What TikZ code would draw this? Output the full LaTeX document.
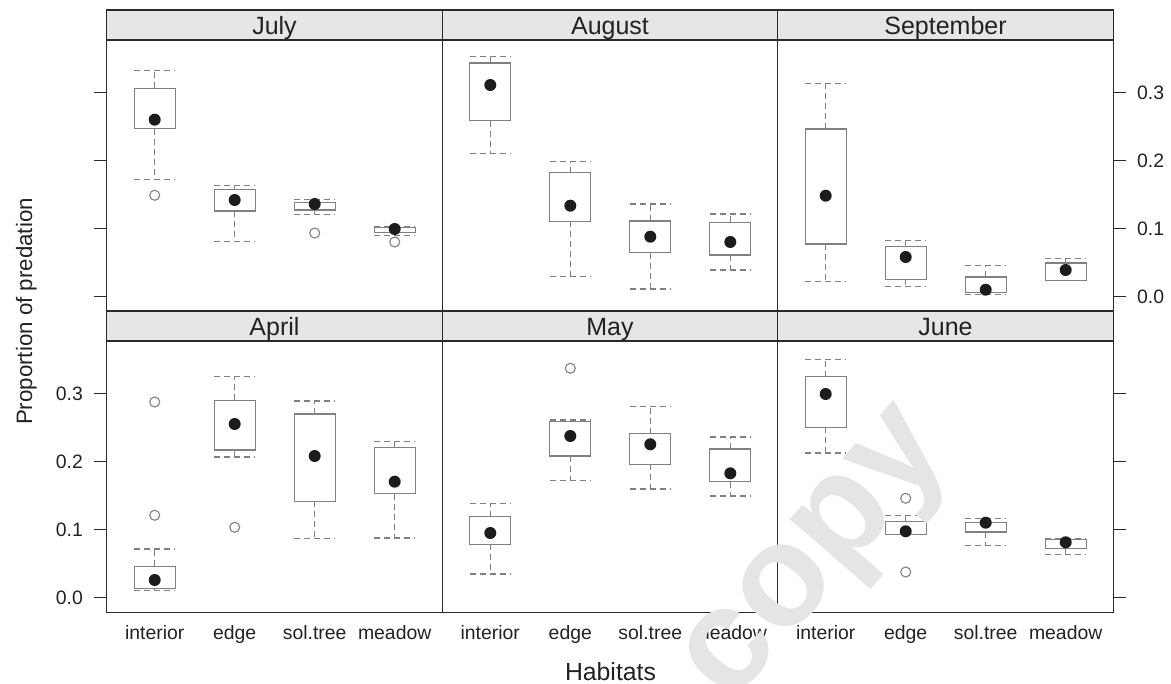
\documentclass[tikz,border=0pt]{standalone}
\usepackage{fontspec}
\setmainfont{Liberation Sans}
\definecolor{framec}{HTML}{2A2A2A}
\definecolor{stripc}{HTML}{E6E6E6}
\definecolor{boxc}{HTML}{808080}
\definecolor{dotc}{HTML}{1C1C1C}
\definecolor{labc}{HTML}{222222}
\definecolor{wmc}{HTML}{E5E5E5}
\newcommand\bxp[6]{%
  \draw[whisk] (#1-20.5,#2) -- (#1+20.5,#2);
  \draw[whisk] (#1,#3) -- (#1,#2);
  \draw[whisk] (#1,#5) -- (#1,#6);
  \draw[whisk] (#1-20.5,#6) -- (#1+20.5,#6);
  \draw[boxl] (#1-20.5,#3) rectangle (#1+20.5,#5);
  \fill[dotc] (#1,#4) circle[radius=6pt];
}
\newcommand\outp[2]{\draw[outl] (#1,#2) circle[radius=5pt];}
\begin{document}
\begin{tikzpicture}[x=1pt,y=-1pt,
  frame/.style={draw=framec,line width=1.3pt},
  strip/.style={fill=stripc,draw=framec,line width=1.3pt},
  boxl/.style={draw=boxc,line width=1.3pt},
  whisk/.style={draw=boxc,line width=1.2pt,dash pattern=on 6pt off 4pt},
  outl/.style={draw=boxc,line width=1.1pt},
  tickl/.style={draw=framec,line width=1.2pt},
  ticklab/.style={font=\fontsize{19.4}{22}\selectfont,text=labc,inner sep=0pt},
  striplab/.style={font=\fontsize{25}{28}\selectfont,text=labc,inner sep=0pt,anchor=base},
  axlab/.style={font=\fontsize{24.8}{28}\selectfont,text=labc,inner sep=0pt,anchor=base},
  wm/.style={font=\fontsize{145}{155}\selectfont\bfseries,text=wmc,inner sep=0pt}]
\useasboundingbox (0,0) rectangle (1171,684);
% strips
\draw[strip] (106.7,10) rectangle (442.3,40);
\draw[strip] (442.3,10) rectangle (777.7,40);
\draw[strip] (777.7,10) rectangle (1113.3,40);
\draw[strip] (106.7,311) rectangle (442.3,341);
\draw[strip] (442.3,311) rectangle (777.7,341);
\draw[strip] (777.7,311) rectangle (1113.3,341);
\node[striplab] (sJul) at (274.5,35) {July};
\node[striplab] (sAug) at (610,35) {August};
\node[striplab] (sSep) at (945.5,35) {September};
\node[striplab] (sApr) at (274.5,336) {April};
\node[striplab] (sMay) at (610,336) {May};
\node[striplab] (sJun) at (945.5,336) {June};
% panels
\draw[frame] (106.7,40) rectangle (442.3,311);
\draw[frame] (442.3,40) rectangle (777.7,311);
\draw[frame] (777.7,40) rectangle (1113.3,311);
\draw[frame] (106.7,341) rectangle (442.3,612.3);
\draw[frame] (442.3,341) rectangle (777.7,612.3);
\draw[frame] (777.7,341) rectangle (1113.3,612.3);
% ticks
\foreach \yy/\lab in {92.4/0.3,160.5/0.2,228.6/0.1,296.7/0.0}{
  \draw[tickl] (94.3,\yy) -- (106.7,\yy);
  \draw[tickl] (1113.3,\yy) -- (1126,\yy);
  \node[ticklab,anchor=base west] at (1137,\yy+7) {\lab};
}
\foreach \yy/\lab in {393.4/0.3,461.5/0.2,529.6/0.1,597.7/0.0}{
  \draw[tickl] (94.3,\yy) -- (106.7,\yy);
  \draw[tickl] (1113.3,\yy) -- (1126,\yy);
  \node[ticklab,anchor=base east] at (83,\yy+7) {\lab};
}
\foreach \cx in {106.7,442.3,777.7}{
  \node[ticklab,anchor=base] at (\cx+48,639.5) {interior};
  \node[ticklab,anchor=base] at (\cx+128,639.5) {edge};
  \node[ticklab,anchor=base] at (\cx+208,639.5) {sol.tree};
  \node[ticklab,anchor=base] at (\cx+288,639.5) {meadow};
}
\node[axlab] (xlab) at (610.5,680) {Habitats};
\node[axlab,font=\fontsize{22.3}{26}\selectfont,rotate=90] (ylab) at (32,311.5) {Proportion of predation};
% July
\bxp{154.7}{70.3}{88.3}{119.7}{128.7}{179.3}\outp{154.7}{195.3}
\bxp{234.7}{185.7}{189.7}{200}{211}{241.3}
\bxp{314.7}{199.7}{202.3}{204}{210}{214.7}\outp{314.7}{233}
\bxp{394.7}{226.7}{227.3}{229}{232.7}{235.3}\outp{394.7}{242}
% August
\bxp{490.3}{56.7}{63}{85}{120.7}{153.3}
\bxp{570.3}{161.7}{172.7}{205.7}{221.3}{276.7}
\bxp{650.3}{204}{221}{236.7}{252.7}{289}
\bxp{730.3}{214}{222.3}{242}{255}{270}
% September
\bxp{825.7}{83.3}{129}{195.7}{244}{281.3}
\bxp{905.7}{240.7}{246.7}{257}{279.3}{286.7}
\bxp{985.7}{265.3}{277}{289.7}{292.3}{294.7}
\bxp{1065.7}{258.7}{263}{270}{280.3}{280.7}
% April
\bxp{154.7}{549}{566.3}{580}{588.3}{590.7}\outp{154.7}{402}\outp{154.7}{515.3}
\bxp{234.7}{376.7}{400.3}{424}{450}{457}\outp{234.7}{527.3}
\bxp{314.7}{401}{414}{456}{501.3}{538.7}
\bxp{394.7}{441.3}{447.7}{481.7}{493.7}{538}
% May
\bxp{490.3}{503.7}{516.7}{533}{544.3}{574}
\bxp{570.3}{420}{421.7}{436}{456}{480.3}\outp{570.3}{368.3}
\bxp{650.3}{406.7}{433.7}{444.3}{464.3}{489}
\bxp{730.3}{437}{449}{473.3}{481.7}{496}
% June
\bxp{825.7}{359.7}{376.7}{394}{427.3}{453}
\bxp{905.7}{515.7}{521.7}{531.3}{534.3}{534.7}\outp{905.7}{498.3}\outp{905.7}{572}
\bxp{985.7}{518.3}{522.7}{522.7}{532}{545.3}
\bxp{1065.7}{538.7}{539.3}{542.3}{548.7}{554.7}
% watermark
\node[wm,rotate=49] (wmark) at (823,562) {copy};
\end{tikzpicture}
\end{document}
